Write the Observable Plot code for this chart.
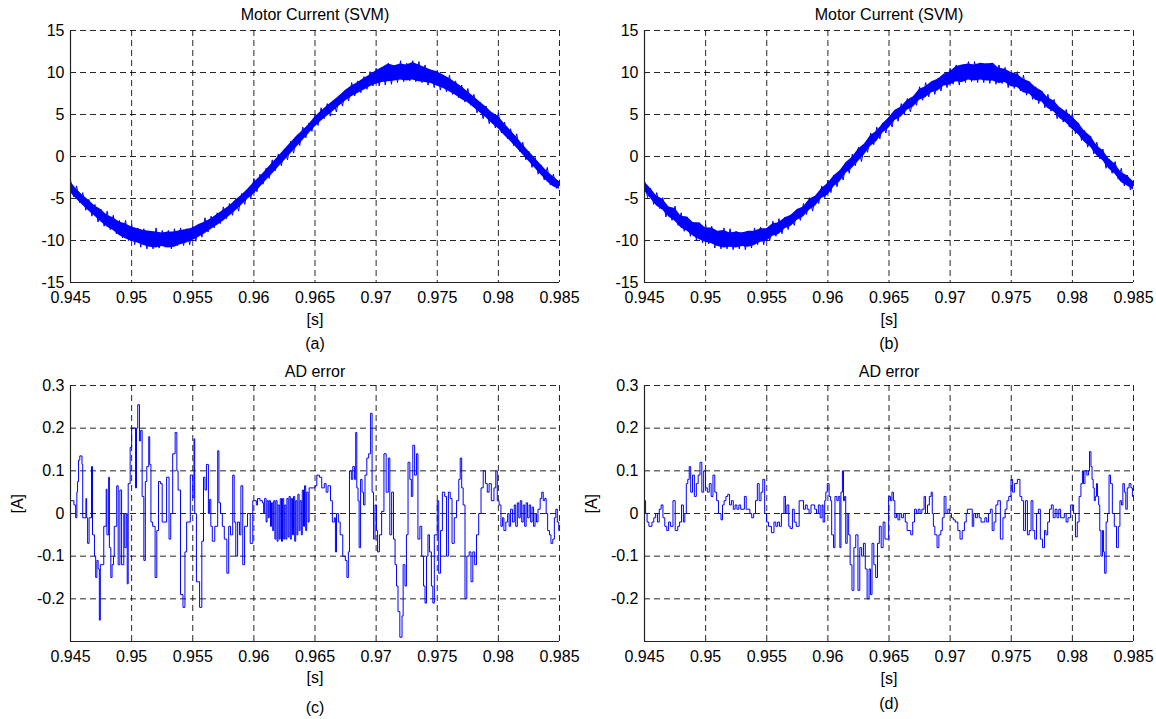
<!DOCTYPE html>
<html>
<head>
<meta charset="utf-8">
<script src="https://cdn.jsdelivr.net/npm/d3@7"></script>
<script src="https://cdn.jsdelivr.net/npm/@observablehq/plot@0.6"></script>
<style>
  html, body { margin: 0; padding: 0; background: #fff; }
  #wrap { position: relative; width: 1156px; height: 719px; background: #fff; overflow: hidden; }
  #wrap svg { position: absolute; }
</style>
</head>
<body>
<div id="wrap"></div>
<script>
// ---------- tick labels ----------
const xTicks = [0.945, 0.95, 0.955, 0.96, 0.965, 0.97, 0.975, 0.98, 0.985];
const currentTicks = [-15, -10, -5, 0, 5, 10, 15];
const errorGrid = [-0.2, -0.1, 0, 0.1, 0.2, 0.3];
const errorTickLabels = [-0.2, -0.1, 0, 0.1, 0.2, 0.3];

// ---------- panels (a), (b): motor current, ripple band (lower / upper envelope) ----------
const tEnv = [
  0.9450,0.9455,0.9460,0.9465,0.9470,0.9475,0.9480,0.9485,0.9490,0.9495,
  0.9500,0.9505,0.9510,0.9515,0.9520,0.9525,0.9530,0.9535,0.9540,0.9545,
  0.9550,0.9555,0.9560,0.9565,0.9570,0.9575,0.9580,0.9585,0.9590,0.9595,
  0.9600,0.9605,0.9610,0.9615,0.9620,0.9625,0.9630,0.9635,0.9640,0.9645,
  0.9650,0.9655,0.9660,0.9665,0.9670,0.9675,0.9680,0.9685,0.9690,0.9695,
  0.9700,0.9705,0.9710,0.9715,0.9720,0.9725,0.9730,0.9735,0.9740,0.9745,
  0.9750,0.9755,0.9760,0.9765,0.9770,0.9775,0.9780,0.9785,0.9790,0.9795,
  0.9800,0.9805,0.9810,0.9815,0.9820,0.9825,0.9830,0.9835,0.9840,0.9845,
  0.9850];
const aLo = [
  -4.3,-5.1,-5.8,-6.5,-7.1,-7.8,-8.4,-8.8,-9.4,-9.8,
  -10.1,-10.3,-10.6,-10.8,-10.9,-10.7,-10.9,-10.8,-10.5,-10.3,
  -10.0,-9.6,-9.2,-8.7,-8.2,-7.7,-7.1,-6.5,-5.8,-5.1,
  -4.5,-3.7,-2.9,-2.1,-1.3,-0.5,0.3,1.1,1.9,2.7,
  3.5,4.2,4.8,5.4,6.0,6.6,7.1,7.5,7.9,8.3,
  8.6,8.8,8.9,9.0,9.1,9.0,9.1,8.9,8.8,8.7,
  8.4,8.1,7.7,7.3,6.8,6.4,5.8,5.2,4.6,3.9,
  3.3,2.5,1.8,1.0,0.2,-0.6,-1.4,-2.2,-3.0,-3.6,
  -3.9];
const aHi = [
  -3.0,-3.9,-4.6,-5.2,-5.9,-6.3,-7.0,-7.3,-7.8,-8.0,
  -8.4,-8.6,-8.8,-8.9,-9.0,-9.1,-9.0,-9.0,-8.8,-8.7,
  -8.5,-8.1,-7.8,-7.4,-6.9,-6.4,-5.9,-5.2,-4.6,-3.9,
  -3.1,-2.4,-1.6,-0.8,0.0,0.8,1.6,2.4,3.1,3.8,
  4.7,5.4,6.0,6.6,7.2,7.9,8.4,8.8,9.3,9.7,
  10.2,10.6,11.0,10.8,11.0,10.9,11.2,10.9,10.6,10.3,
  10.1,9.7,9.3,8.8,8.3,7.7,7.1,6.5,5.9,5.2,
  4.8,3.9,3.1,2.3,1.4,0.6,-0.2,-1.0,-1.8,-2.4,
  -3.0];
const bLo = [
  -4.1,-5.0,-5.9,-6.4,-7.2,-7.7,-8.5,-8.9,-9.5,-9.9,
  -10.2,-10.4,-10.7,-10.9,-10.8,-10.9,-10.7,-10.8,-10.6,-10.2,
  -10.1,-9.5,-9.3,-8.6,-8.3,-7.6,-7.2,-6.4,-5.9,-5.0,
  -4.6,-3.6,-3.0,-2.0,-1.4,-0.6,0.2,1.2,1.8,2.8,
  3.4,4.3,4.7,5.5,5.9,6.7,7.0,7.6,7.8,8.4,
  8.5,8.9,8.8,9.1,9.0,9.1,9.0,9.0,8.7,8.8,
  8.3,8.2,7.6,7.4,6.7,6.5,5.7,5.3,4.5,4.0,
  3.2,2.6,1.7,1.1,0.1,-0.5,-1.5,-2.1,-3.1,-3.5,
  -4.0];
const bHi = [
  -3.0,-3.8,-4.7,-5.1,-6.0,-6.2,-7.1,-7.2,-7.9,-7.9,
  -8.5,-8.5,-8.9,-8.8,-9.1,-9.0,-9.1,-8.9,-8.9,-8.6,
  -8.6,-8.0,-7.9,-7.3,-7.0,-6.3,-6.0,-5.1,-4.7,-3.8,
  -3.2,-2.3,-1.7,-0.7,-0.1,0.9,1.5,2.5,3.0,3.9,
  4.6,5.5,5.9,6.7,7.1,8.0,8.3,8.9,9.2,9.8,
  10.1,10.7,10.9,11.0,10.9,11.1,11.0,11.1,10.5,10.4,
  10.0,9.8,9.2,8.9,8.2,7.8,7.0,6.6,5.8,5.3,
  4.7,4.0,3.0,2.4,1.3,0.7,-0.3,-0.9,-1.9,-2.3,
  -3.0];

// ripple tips (PWM ripple peaks, alternating upper / lower tips)
const tTip = [
  0.94500,0.94525,0.94550,0.94575,0.94600,0.94625,0.94650,0.94675,0.94700,0.94725,
  0.94750,0.94775,0.94800,0.94825,0.94850,0.94875,0.94900,0.94925,0.94950,0.94975,
  0.95000,0.95025,0.95050,0.95075,0.95100,0.95125,0.95150,0.95175,0.95200,0.95225,
  0.95250,0.95275,0.95300,0.95325,0.95350,0.95375,0.95400,0.95425,0.95450,0.95475,
  0.95500,0.95525,0.95550,0.95575,0.95600,0.95625,0.95650,0.95675,0.95700,0.95725,
  0.95750,0.95775,0.95800,0.95825,0.95850,0.95875,0.95900,0.95925,0.95950,0.95975,
  0.96000,0.96025,0.96050,0.96075,0.96100,0.96125,0.96150,0.96175,0.96200,0.96225,
  0.96250,0.96275,0.96300,0.96325,0.96350,0.96375,0.96400,0.96425,0.96450,0.96475,
  0.96500,0.96525,0.96550,0.96575,0.96600,0.96625,0.96650,0.96675,0.96700,0.96725,
  0.96750,0.96775,0.96800,0.96825,0.96850,0.96875,0.96900,0.96925,0.96950,0.96975,
  0.97000,0.97025,0.97050,0.97075,0.97100,0.97125,0.97150,0.97175,0.97200,0.97225,
  0.97250,0.97275,0.97300,0.97325,0.97350,0.97375,0.97400,0.97425,0.97450,0.97475,
  0.97500,0.97525,0.97550,0.97575,0.97600,0.97625,0.97650,0.97675,0.97700,0.97725,
  0.97750,0.97775,0.97800,0.97825,0.97850,0.97875,0.97900,0.97925,0.97950,0.97975,
  0.98000,0.98025,0.98050,0.98075,0.98100,0.98125,0.98150,0.98175,0.98200,0.98225,
  0.98250,0.98275,0.98300,0.98325,0.98350,0.98375,0.98400,0.98425,0.98450,0.98475,
  0.98500];
const aTip = [
  -2.8,-4.8,-3.5,-5.5,-4.3,-6.4,-5.1,-7.1,-5.7,-7.8,
  -6.3,-8.3,-6.5,-8.7,-7.0,-9.2,-7.6,-9.7,-7.6,-10.0,
  -8.1,-10.5,-8.5,-10.8,-8.6,-11.0,-8.9,-11.0,-8.5,-10.9,
  -8.8,-10.8,-8.8,-11.0,-8.6,-10.6,-8.5,-10.6,-8.6,-10.5,
  -8.3,-10.1,-8.1,-9.6,-7.3,-9.0,-7.1,-8.5,-6.7,-8.0,
  -6.0,-7.4,-5.6,-7.0,-5.1,-6.5,-4.4,-5.7,-3.9,-5.0,
  -2.6,-4.2,-2.1,-3.3,-1.4,-2.6,-0.4,-1.7,0.3,-1.1,
  0.9,-0.4,1.8,0.4,2.4,1.3,3.5,2.2,4.0,3.0,
  4.9,3.7,5.8,4.5,6.3,4.8,6.6,5.3,7.3,6.0,
  7.9,6.6,8.8,7.2,9.0,7.6,9.5,8.0,10.1,8.4,
  10.5,8.4,10.6,8.5,11.1,8.6,10.8,8.8,11.4,8.9,
  11.1,9.0,11.4,8.9,11.3,8.8,10.9,8.5,10.3,8.2,
  10.2,7.9,9.7,7.7,9.7,7.4,9.0,7.0,8.5,6.5,
  8.1,6.1,7.4,5.2,6.5,4.5,6.0,3.9,5.2,3.4,
  5.2,2.8,4.1,2.1,3.3,1.3,2.7,0.6,1.7,-0.4,
  0.6,-1.3,-0.1,-2.1,-1.0,-2.8,-1.3,-3.4,-2.1,-3.8,
  -2.8];
const bTip = [
  -2.9,-4.9,-3.8,-5.7,-4.3,-6.2,-4.9,-7.2,-6.0,-7.6,
  -5.9,-8.2,-6.7,-8.9,-7.2,-9.5,-7.8,-10.0,-7.9,-10.3,
  -8.1,-10.4,-8.3,-10.9,-8.9,-11.0,-8.5,-11.0,-8.6,-11.1,
  -8.9,-11.0,-9.0,-11.1,-8.9,-10.9,-8.5,-10.5,-8.4,-10.5,
  -8.6,-10.0,-7.7,-9.5,-7.4,-9.2,-7.2,-8.7,-6.9,-8.2,
  -6.3,-7.6,-5.6,-6.9,-4.9,-6.5,-4.7,-5.6,-3.5,-4.9,
  -2.8,-4.3,-2.2,-3.6,-1.6,-2.8,-0.7,-2.0,0.3,-1.1,
  1.1,-0.6,1.5,0.5,2.8,1.4,3.5,2.1,4.0,2.8,
  4.7,3.5,5.5,4.2,6.3,5.0,6.9,5.3,7.1,6.1,
  8.3,6.7,8.8,7.1,8.9,7.4,9.3,7.8,9.8,8.2,
  10.5,8.6,10.9,8.5,10.9,8.8,11.3,8.9,11.3,8.8,
  11.1,8.8,11.1,8.7,11.1,8.6,10.9,8.7,10.6,8.2,
  10.0,8.1,10.1,7.8,9.7,7.3,8.9,6.8,8.3,6.3,
  7.8,5.8,7.4,5.4,6.8,4.5,5.8,4.1,5.6,3.5,
  5.1,2.7,4.0,1.9,3.1,1.1,2.4,0.3,1.7,-0.3,
  0.9,-1.4,-0.3,-2.0,-0.6,-2.7,-1.4,-3.5,-2.2,-4.0,
  -2.9];

// ---------- panel (c): AD error, step times [s] and levels [A] ----------
const cT = [
  0.94500,0.94528,0.94542,0.94552,0.94558,0.94566,0.94576,0.94594,0.94600,0.94626,
  0.94632,0.94640,0.94652,0.94672,0.94680,0.94696,0.94706,0.94716,0.94726,0.94736,
  0.94744,0.94772,0.94792,0.94798,0.94812,0.94818,0.94830,0.94840,0.94852,0.94858,
  0.94878,0.94890,0.94904,0.94918,0.94936,0.94944,0.94956,0.94964,0.94972,0.94988,
  0.95000,0.95032,0.95040,0.95050,0.95064,0.95074,0.95086,0.95100,0.95112,0.95124,
  0.95140,0.95148,0.95158,0.95172,0.95192,0.95206,0.95220,0.95236,0.95250,0.95286,
  0.95306,0.95320,0.95336,0.95356,0.95370,0.95380,0.95400,0.95420,0.95436,0.95450,
  0.95480,0.95500,0.95510,0.95516,0.95530,0.95556,0.95574,0.95588,0.95600,0.95612,
  0.95628,0.95638,0.95648,0.95660,0.95680,0.95704,0.95714,0.95727,0.95742,0.95758,
  0.95779,0.95794,0.95809,0.95827,0.95839,0.95852,0.95867,0.95882,0.95894,0.95909,
  0.95924,0.95948,0.95970,0.95991,0.96020,0.96030,0.96050,0.96070,0.96080,0.96088,
  0.96100,0.96108,0.96118,0.96126,0.96136,0.96144,0.96154,0.96162,0.96172,0.96180,
  0.96190,0.96198,0.96208,0.96216,0.96226,0.96234,0.96244,0.96252,0.96262,0.96270,
  0.96280,0.96288,0.96298,0.96306,0.96316,0.96324,0.96334,0.96342,0.96352,0.96360,
  0.96370,0.96378,0.96388,0.96396,0.96406,0.96414,0.96424,0.96432,0.96444,0.96452,
  0.96500,0.96515,0.96536,0.96555,0.96576,0.96591,0.96606,0.96627,0.96642,0.96658,
  0.96667,0.96676,0.96691,0.96706,0.96727,0.96748,0.96761,0.96773,0.96782,0.96797,
  0.96809,0.96824,0.96833,0.96842,0.96852,0.96861,0.96873,0.96885,0.96897,0.96909,
  0.96924,0.96939,0.96955,0.96967,0.96979,0.96991,0.97003,0.97012,0.97027,0.97045,
  0.97064,0.97082,0.97100,0.97112,0.97127,0.97142,0.97155,0.97167,0.97179,0.97194,
  0.97212,0.97221,0.97236,0.97248,0.97261,0.97276,0.97288,0.97300,0.97315,0.97330,
  0.97342,0.97358,0.97373,0.97388,0.97400,0.97412,0.97424,0.97436,0.97452,0.97464,
  0.97476,0.97500,0.97512,0.97527,0.97542,0.97561,0.97576,0.97591,0.97606,0.97621,
  0.97639,0.97658,0.97676,0.97688,0.97700,0.97712,0.97727,0.97742,0.97761,0.97776,
  0.97791,0.97806,0.97821,0.97839,0.97858,0.97876,0.97894,0.97909,0.97924,0.97942,
  0.97964,0.97979,0.97991,0.98006,0.98021,0.98033,0.98045,0.98061,0.98076,0.98088,
  0.98100,0.98115,0.98130,0.98142,0.98155,0.98167,0.98179,0.98191,0.98203,0.98215,
  0.98227,0.98239,0.98252,0.98264,0.98276,0.98288,0.98300,0.98312,0.98324,0.98342,
  0.98355,0.98367,0.98379,0.98391,0.98403,0.98418,0.98430,0.98445,0.98458,0.98470,
  0.98482,0.98494,0.98500];
const cV = [
  0.03,0.02,-0.01,0.05,0.075,0.125,0.135,0.115,-0.01,0.035,
  -0.01,-0.07,-0.01,0.11,-0.05,-0.10,-0.15,-0.11,-0.13,-0.25,
  -0.12,-0.03,0.057,-0.05,0.085,-0.08,-0.15,-0.12,-0.10,-0.03,
  0.065,-0.12,0.055,-0.12,0.0,-0.08,0.0,-0.165,0.07,0.155,
  0.20,0.06,0.20,0.255,0.17,0.195,0.04,-0.11,0.075,0.11,
  0.18,0.115,-0.02,-0.03,-0.15,-0.04,0.075,0.07,-0.02,0.085,
  -0.06,0.0,0.14,0.19,0.10,0.055,-0.19,-0.22,-0.09,-0.02,
  0.09,0.037,0.175,0.0,-0.16,-0.22,-0.065,0.085,0.055,0.115,
  0.0,0.033,-0.03,-0.065,-0.03,0.147,0.025,0.0,-0.03,-0.06,
  -0.14,-0.03,-0.05,0.09,-0.02,-0.10,-0.02,-0.05,0.065,-0.12,
  -0.03,0.0,-0.07,0.03,0.02,0.035,0.03,0.025,0.0,0.035,
  -0.02,0.03,-0.01,0.03,-0.03,0.025,-0.04,0.03,-0.06,0.03,
  -0.065,0.02,-0.06,0.035,-0.065,0.035,-0.06,0.02,-0.06,0.035,
  -0.055,0.04,-0.06,0.035,-0.05,0.04,-0.065,0.03,-0.05,0.045,
  -0.04,0.03,-0.05,0.055,-0.03,0.065,-0.04,0.05,-0.02,0.06,
  0.065,0.09,0.085,0.06,0.07,0.05,0.065,0.03,-0.02,-0.01,
  -0.09,0.0,-0.02,-0.05,-0.10,-0.11,-0.15,-0.09,0.10,0.08,
  0.11,0.08,0.19,0.06,0.03,-0.08,0.08,0.05,0.02,0.09,
  0.13,0.14,0.235,0.05,-0.06,0.02,-0.04,-0.09,-0.05,0.005,
  0.14,0.05,0.13,-0.05,0.05,-0.06,-0.12,-0.17,-0.23,-0.29,
  -0.24,-0.12,-0.17,-0.05,0.12,0.08,0.04,0.16,0.09,0.14,
  -0.06,-0.03,-0.10,-0.17,-0.21,-0.10,-0.05,-0.09,-0.17,-0.21,
  -0.05,0.03,-0.14,-0.04,0.05,0.04,-0.10,0.05,0.035,-0.07,
  -0.01,0.03,0.08,0.13,0.06,0.02,-0.20,-0.10,-0.09,-0.16,
  -0.09,-0.12,-0.05,0.0,0.06,0.10,0.07,0.05,0.07,0.03,
  0.06,0.10,0.03,0.02,-0.03,-0.01,-0.04,-0.02,0.0,-0.03,
  0.01,-0.02,0.02,-0.03,0.025,-0.01,0.03,-0.02,0.02,-0.03,
  0.025,-0.01,0.02,-0.02,0.015,-0.03,0.0,-0.02,0.01,0.035,
  0.05,0.03,0.035,0.0,-0.04,-0.05,-0.07,-0.06,-0.01,0.01,
  -0.02,-0.04,-0.04];

// ---------- panel (d): AD error, step times [s] and levels [A] ----------
const dT = [
  0.94500,0.94509,0.94521,0.94536,0.94561,0.94576,0.94591,0.94606,0.94621,0.94636,
  0.94651,0.94666,0.94682,0.94697,0.94712,0.94733,0.94751,0.94772,0.94787,0.94803,
  0.94818,0.94830,0.94842,0.94854,0.94866,0.94878,0.94893,0.94908,0.94924,0.94939,
  0.94954,0.94969,0.94984,0.94999,0.95014,0.95030,0.95045,0.95060,0.95075,0.95090,
  0.95105,0.95126,0.95138,0.95151,0.95166,0.95181,0.95196,0.95211,0.95226,0.95241,
  0.95256,0.95272,0.95287,0.95317,0.95332,0.95362,0.95377,0.95393,0.95408,0.95423,
  0.95438,0.95453,0.95468,0.95483,0.95498,0.95514,0.95538,0.95559,0.95574,0.95589,
  0.95604,0.95620,0.95641,0.95653,0.95665,0.95680,0.95692,0.95710,0.95725,0.95741,
  0.95765,0.95786,0.95801,0.95816,0.95831,0.95846,0.95862,0.95892,0.95907,0.95922,
  0.95937,0.95952,0.95961,0.95974,0.95983,0.95995,0.96010,0.96022,0.96031,0.96046,
  0.96058,0.96073,0.96085,0.96098,0.96107,0.96119,0.96128,0.96137,0.96146,0.96158,
  0.96170,0.96182,0.96197,0.96213,0.96228,0.96246,0.96261,0.96276,0.96291,0.96306,
  0.96321,0.96337,0.96349,0.96361,0.96376,0.96391,0.96406,0.96421,0.96436,0.96452,
  0.96467,0.96497,0.96512,0.96524,0.96536,0.96548,0.96561,0.96573,0.96588,0.96603,
  0.96618,0.96633,0.96648,0.96678,0.96694,0.96709,0.96724,0.96739,0.96754,0.96769,
  0.96787,0.96799,0.96815,0.96830,0.96845,0.96854,0.96863,0.96875,0.96893,0.96908,
  0.96924,0.96936,0.96951,0.96966,0.96981,0.96996,0.97011,0.97026,0.97042,0.97063,
  0.97081,0.97099,0.97117,0.97132,0.97141,0.97181,0.97193,0.97208,0.97223,0.97238,
  0.97253,0.97284,0.97299,0.97314,0.97329,0.97344,0.97359,0.97374,0.97390,0.97411,
  0.97432,0.97450,0.97465,0.97480,0.97498,0.97511,0.97526,0.97550,0.97571,0.97586,
  0.97601,0.97616,0.97632,0.97647,0.97662,0.97677,0.97692,0.97707,0.97722,0.97738,
  0.97756,0.97772,0.97784,0.97798,0.97813,0.97828,0.97843,0.97859,0.97874,0.97889,
  0.97904,0.97934,0.97949,0.97964,0.97986,0.98010,0.98025,0.98040,0.98055,0.98070,
  0.98082,0.98091,0.98103,0.98118,0.98131,0.98140,0.98152,0.98161,0.98170,0.98179,
  0.98188,0.98197,0.98206,0.98215,0.98224,0.98234,0.98246,0.98255,0.98264,0.98276,
  0.98288,0.98300,0.98312,0.98327,0.98343,0.98361,0.98376,0.98389,0.98401,0.98413,
  0.98425,0.98437,0.98449,0.98464,0.98479,0.98491,0.98500];
const dV = [
  0.03,0.0,-0.02,-0.03,-0.02,-0.01,0.0,-0.02,0.01,0.02,
  -0.01,-0.03,-0.04,-0.02,-0.03,0.03,-0.04,-0.03,-0.02,0.02,
  -0.02,0.0,0.07,0.08,0.11,0.05,0.09,0.04,0.07,0.09,
  0.12,0.05,0.10,0.06,0.05,0.07,0.04,0.09,0.05,0.03,
  0.0,-0.015,0.02,0.03,0.04,0.045,0.02,0.03,0.01,0.02,
  0.01,0.02,0.01,0.04,0.01,0.0,-0.01,0.0,0.03,0.07,
  0.03,0.05,0.08,0.0,-0.02,-0.03,-0.045,-0.02,-0.03,-0.02,
  -0.03,0.0,0.04,0.0,0.02,-0.03,-0.035,0.01,-0.02,-0.03,
  0.03,0.03,0.01,0.02,0.01,0.0,0.02,0.01,0.0,0.02,
  -0.01,0.02,-0.02,0.03,0.05,0.07,0.04,0.03,-0.05,-0.08,
  0.04,0.03,0.04,-0.08,0.05,0.10,0.03,0.04,-0.07,0.0,
  -0.05,-0.12,-0.18,-0.08,-0.05,-0.18,-0.08,-0.10,-0.07,-0.13,
  -0.20,-0.13,-0.19,-0.07,-0.12,-0.15,-0.07,-0.03,-0.08,-0.02,
  -0.06,0.04,0.03,0.05,0.03,-0.01,0.0,-0.015,0.0,-0.01,
  0.0,-0.02,-0.04,-0.05,-0.02,0.01,0.0,0.01,0.0,0.01,
  0.04,0.0,0.02,0.04,0.05,0.0,-0.03,-0.05,-0.08,-0.05,
  -0.04,-0.01,0.04,0.0,0.01,0.0,-0.01,-0.015,-0.02,-0.04,
  -0.06,-0.04,-0.02,0.0,0.01,-0.03,0.0,-0.01,0.0,-0.01,
  -0.02,-0.01,-0.02,0.0,0.01,-0.04,-0.02,0.02,0.03,-0.06,
  -0.01,0.01,0.03,0.04,0.08,0.05,0.07,0.08,0.04,0.03,
  -0.04,0.03,-0.05,-0.04,0.03,-0.04,-0.06,0.0,0.01,-0.06,
  -0.08,-0.04,-0.05,-0.02,0.01,0.02,-0.01,0.01,-0.01,0.01,
  -0.01,0.0,-0.02,-0.01,0.02,0.0,-0.055,-0.02,0.04,0.07,
  0.10,0.07,0.10,0.09,0.10,0.145,0.11,0.08,0.06,0.03,
  0.04,0.07,0.04,0.02,-0.04,-0.10,-0.04,-0.09,-0.14,-0.02,
  0.0,0.09,0.07,0.0,-0.03,-0.08,-0.03,0.03,0.02,0.07,
  0.05,0.01,0.06,0.07,0.06,0.04,0.04];

// ---------- build tables ----------
const bandA = tEnv.map((t, i) => ({t, lo: aLo[i], hi: aHi[i]}));
const bandB = tEnv.map((t, i) => ({t, lo: bLo[i], hi: bHi[i]}));
const tipsA = tTip.map((t, i) => ({t, v: aTip[i]}));
const tipsB = tTip.map((t, i) => ({t, v: bTip[i]}));
const errC = cT.map((t, i) => ({t, v: cV[i]}));
const errD = dT.map((t, i) => ({t, v: dV[i]}));

const BLUE = "#0000ff";
const FONT = "'Liberation Sans', Arial, Helvetica, sans-serif";
const fmt = d => String(d);

function panel(o) {
  const svg = Plot.plot({
    width: o.width, height: o.height,
    marginLeft: o.mL, marginRight: o.mR, marginTop: o.mT, marginBottom: o.mB,
    style: {background: "transparent", overflow: "visible", fontFamily: FONT, fontSize: "16px", color: "#000"},
    x: {domain: [0.945, 0.985], ticks: xTicks, tickFormat: fmt, tickSize: 0, tickPadding: 9, label: null},
    y: {domain: o.yDomain, ticks: o.yTicks, tickFormat: fmt, tickSize: 0, tickPadding: 6, label: null},
    marks: [
      Plot.ruleX(xTicks, {stroke: "#000", strokeWidth: 1, strokeOpacity: 0.85, strokeDasharray: "6,4"}),
      Plot.ruleY(o.yGrid, {stroke: "#000", strokeWidth: 1, strokeOpacity: 0.85, strokeDasharray: "6,4"}),
      ...o.dataMarks,
      Plot.ruleX([0.945], {stroke: "#222", strokeWidth: 1.2}),
      Plot.ruleY([o.yDomain[0]], {stroke: "#222", strokeWidth: 1.2}),
      Plot.text([o.title], {text: d => d, frameAnchor: "top", dy: o.titleDy, fontSize: 16, lineAnchor: "middle"}),
      Plot.text(["[s]"], {text: d => d, frameAnchor: "bottom", dy: o.sDy, fontSize: 16, lineAnchor: "middle"}),
      Plot.text([o.caption], {text: d => d, frameAnchor: "bottom", dy: o.capDy, fontSize: 16, lineAnchor: "middle"}),
      ...(o.yLabel ? [Plot.text([o.yLabel], {text: d => d, frameAnchor: "left", dx: -53, rotate: -90, fontSize: 16, lineAnchor: "middle"})] : [])
    ]
  });
  svg.style.left = o.left + "px";
  svg.style.top = o.top + "px";
  svg.style.width = o.width + "px";
  svg.style.height = o.height + "px";
  svg.style.maxWidth = "none";
  document.getElementById("wrap").appendChild(svg);
}

function bandMarks(band, tips) {
  return [
    Plot.areaY(band, {x: "t", y1: "lo", y2: "hi", fill: BLUE}),
    Plot.line(tips, {x: "t", y: "v", stroke: BLUE, strokeWidth: 1})
  ];
}
function stepMarks(data) {
  return [Plot.line(data, {x: "t", y: "v", curve: "step-after", stroke: BLUE, strokeWidth: 1})];
}

panel({left: 0, top: 0, width: 578, height: 360, mL: 70, mR: 19, mT: 30, mB: 78,
  yDomain: [-15, 15], yTicks: currentTicks, yGrid: currentTicks,
  title: "Motor Current (SVM)", titleDy: -16, sDy: 37, caption: "(a)", capDy: 61,
  dataMarks: bandMarks(bandA, tipsA)});
panel({left: 578, top: 0, width: 578, height: 360, mL: 66, mR: 23, mT: 30, mB: 78,
  yDomain: [-15, 15], yTicks: currentTicks, yGrid: currentTicks,
  title: "Motor Current (SVM)", titleDy: -16, sDy: 37, caption: "(b)", capDy: 61,
  dataMarks: bandMarks(bandB, tipsB)});
panel({left: 0, top: 360, width: 578, height: 359, mL: 70, mR: 19, mT: 25, mB: 78,
  yDomain: [-0.3, 0.3], yTicks: errorTickLabels, yGrid: errorGrid,
  title: "AD error", titleDy: -14, sDy: 36, caption: "(c)", capDy: 66, yLabel: "[A]",
  dataMarks: stepMarks(errC)});
panel({left: 578, top: 360, width: 578, height: 359, mL: 66, mR: 23, mT: 25, mB: 78,
  yDomain: [-0.3, 0.3], yTicks: errorTickLabels, yGrid: errorGrid,
  title: "AD error", titleDy: -14, sDy: 37, caption: "(d)", capDy: 62, yLabel: "[A]",
  dataMarks: stepMarks(errD)});
</script>
</body>
</html>
